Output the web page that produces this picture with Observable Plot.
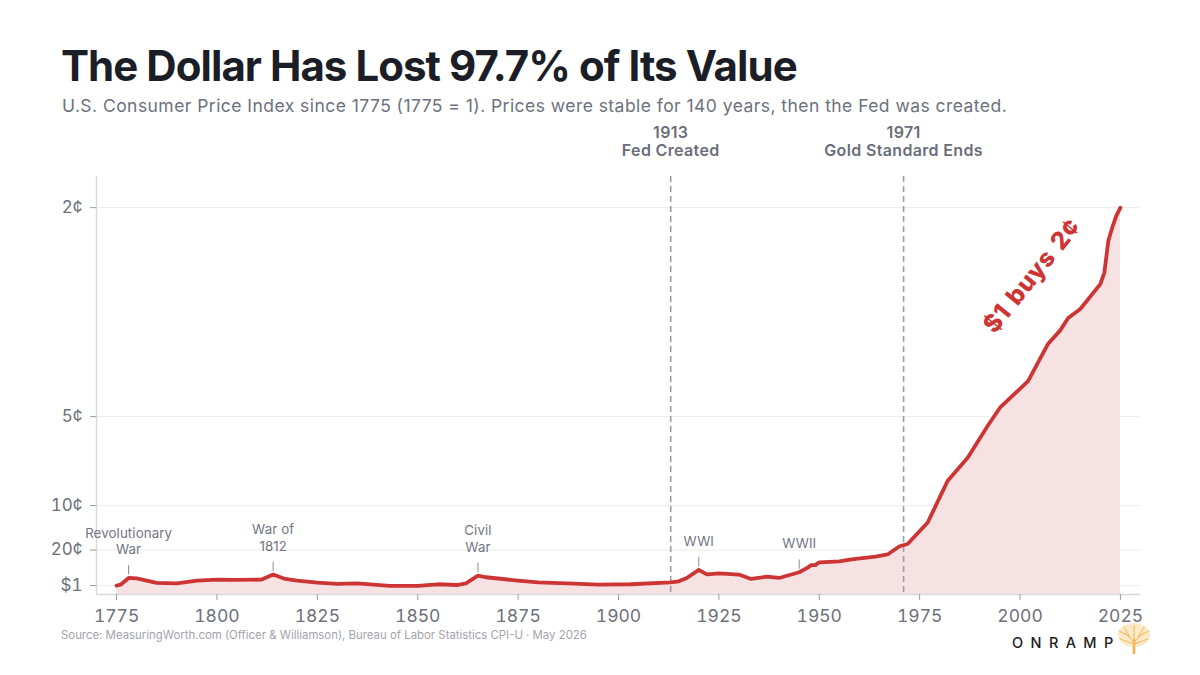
<!DOCTYPE html>
<html>
<head>
<meta charset="utf-8">
<script src="https://cdn.jsdelivr.net/npm/d3@7"></script>
<script src="https://cdn.jsdelivr.net/npm/@observablehq/plot@0.6"></script>
<style>
  html, body { margin: 0; padding: 0; background: #ffffff; }
  body { width: 1200px; height: 675px; position: relative; overflow: hidden; font-family: Inter, "Noto Sans", sans-serif; }
  #title { position: absolute; left: 61px; top: 45px; font-size: 42px; line-height: 42px; font-weight: 700; color: #1b1e27; letter-spacing: -0.95px; white-space: nowrap; }
  #subtitle { position: absolute; left: 62px; top: 97px; font-size: 17.5px; line-height: 17px; color: #6d717c; letter-spacing: 0.45px; white-space: nowrap; }
  #chart { position: absolute; left: 0; top: 118px; }
  #source { position: absolute; left: 61px; top: 628px; font-size: 11.4px; color: #a3a3aa; white-space: nowrap; }
  #logo { position: absolute; left: 1012px; top: 634px; font-size: 14.5px; font-weight: 500; letter-spacing: 7.4px; color: #1d1d22; white-space: nowrap; }
  #tree { position: absolute; left: 1115px; top: 620px; }
  .marker-label text { letter-spacing: 0.35px; }
  .event-label text { letter-spacing: 0.1px; }
  .callout text { letter-spacing: 0.6px; word-spacing: 2px; }
</style>
</head>
<body>
<div id="title">The Dollar Has Lost 97.7% of Its Value</div>
<div id="subtitle">U.S. Consumer Price Index since 1775 (1775 = 1). Prices were stable for 140 years, then the Fed was created.</div>
<div id="chart"></div>
<div id="source">Source: MeasuringWorth.com (Officer &amp; Williamson), Bureau of Labor Statistics CPI-U · May 2026</div>
<div id="logo">ONRAMP</div>
<svg id="tree" width="40" height="34" viewBox="0 0 40 34">
  <g stroke="#f3b24a" fill="none" stroke-linecap="round">
    <path d="M19 33 L19 20" stroke-width="2.6"/>
    <path d="M19 22 L10 13 M19 22 L28 13 M19 20 L19 6 M19 24 L5 19 M19 24 L33 19 M15 17 L9 7 M23 17 L29 7 M12 15 L4 11 M26 15 L34 11" stroke-width="1"/>
  </g>
  <ellipse cx="19" cy="15" rx="16" ry="12" fill="#f6c061" opacity="0.35"/>
</svg>
<script>
// ---- data ----
const years = [1775,1776,1778,1780,1785,1790,1795,1800,1805,1811,1814,1817,1820,1825,1830,1835,1839,1843,1850,1855,1860,1862,1865,1867,1875,1880,1889,1895,1903,1913,1915,1917,1920,1922,1925,1930,1933,1937,1940,1945,1947,1948,1949,1950,1955,1958,1964,1967,1970,1972,1977,1982,1987,1992,1995,2002,2007,2010,2012,2015,2020,2021,2022,2023,2024,2025];
const cpi   = [1.0,1.1,1.86,1.82,1.30,1.26,1.56,1.67,1.64,1.67,2.24,1.75,1.56,1.34,1.19,1.26,1.11,0.96,0.96,1.15,1.07,1.26,2.12,1.94,1.56,1.37,1.22,1.11,1.15,1.37,1.48,1.86,2.76,2.27,2.38,2.24,1.75,2.01,1.86,2.5,2.99,3.3,3.3,3.62,3.73,3.96,4.26,4.5,5.42,5.68,8.1,12.8,15.4,19.0,21.0,24.0,28.2,29.7,31.1,32.1,34.9,36.2,39.8,41.3,42.6,43.5];

const xTicks = [1775,1800,1825,1850,1875,1900,1925,1950,1975,2000,2025];
const yTicks = [1,5,10,20,43.5];
const yTickLabels = ["$1","20¢","10¢","5¢","2¢"];

const eventYears  = [1778,1814,1865,1920,1945];
const eventLabels = ["Revolutionary\nWar","War of\n1812","Civil\nWar","WWI","WWII"];

const markerYears  = [1913,1971];
const markerLabels = ["1913\nFed Created","1971\nGold Standard Ends"];

const calloutYear = [2003];
const calloutValue = [35.8];
const calloutText = ["$1 buys 2¢"];

// ---- tables ----
const series = years.map((y, i) => ({year: y, value: cpi[i]}));
const valueAt = new Map(series.map(d => [d.year, d.value]));
const events = eventYears.map((y, i) => ({year: y, value: valueAt.get(y), label: eventLabels[i]}));
const markers = markerYears.map((y, i) => ({year: y, label: markerLabels[i]}));
const callout = calloutYear.map((y, i) => ({year: y, value: calloutValue[i], text: calloutText[i]}));
const yLabelMap = new Map(yTicks.map((v, i) => [v, yTickLabels[i]]));

const red = "#cd3434";
const gray = "#6e707a";

const chart = Plot.plot({
  width: 1200,
  height: 557,
  marginTop: 58,
  marginBottom: 81,
  marginLeft: 96,
  marginRight: 60,
  style: {fontFamily: "Inter, 'Noto Sans', sans-serif", fontSize: "16px", color: gray, background: "transparent", overflow: "visible"},
  x: {domain: [1770, 2030]},
  y: {domain: [0, 47]},
  marks: [
    Plot.gridY(yTicks, {stroke: "#ebebed", strokeOpacity: 1}),
    Plot.areaY(series, {x: "year", y: "value", fill: "#f6e2e3"}),
    Plot.ruleX([1770], {stroke: "#d8d8dc", strokeWidth: 1.4}),
    Plot.ruleY([0], {stroke: "#d8d8dc", strokeWidth: 1.4}),
    Plot.ruleX(markers, {x: "year", stroke: "#9c9ca8", strokeWidth: 1.6, strokeDasharray: "6,4"}),
    Plot.line(series, {x: "year", y: "value", stroke: red, strokeWidth: 3.8, strokeLinejoin: "round", strokeLinecap: "round"}),
    Plot.ruleX(events, {x: "year", y1: "value", y2: d => d.value + 1.05, dy: -3, stroke: "#8a8a94", strokeWidth: 1}),
    Plot.text(events, {x: "year", y: "value", text: "label", dy: -24, lineAnchor: "bottom", lineHeight: 1.22, fontSize: 13.3, fill: "#74757f", className: "event-label"}),
    Plot.text(markers, {x: "year", text: "label", frameAnchor: "top", lineAnchor: "top", dy: -51, lineHeight: 1.13, fontSize: 16, fontWeight: 600, fill: "#6b6e79", className: "marker-label"}),
    Plot.text(callout, {x: "year", y: "value", text: "text", rotate: -51, fontSize: 24.5, fontWeight: 800, fill: red, className: "callout"}),
    Plot.axisY({ticks: yTicks, tickFormat: d => yLabelMap.get(d), tickSize: 6, tickPadding: 8, label: null, stroke: "#9a9aa2", color: gray, fontSize: 17}),
    Plot.axisX({ticks: xTicks, tickFormat: d => String(d), tickSize: 6, tickPadding: 9, label: null, stroke: "#9a9aa2", color: gray, fontSize: 17.5})
  ]
});
document.getElementById("chart").appendChild(chart);
</script>
</body>
</html>
